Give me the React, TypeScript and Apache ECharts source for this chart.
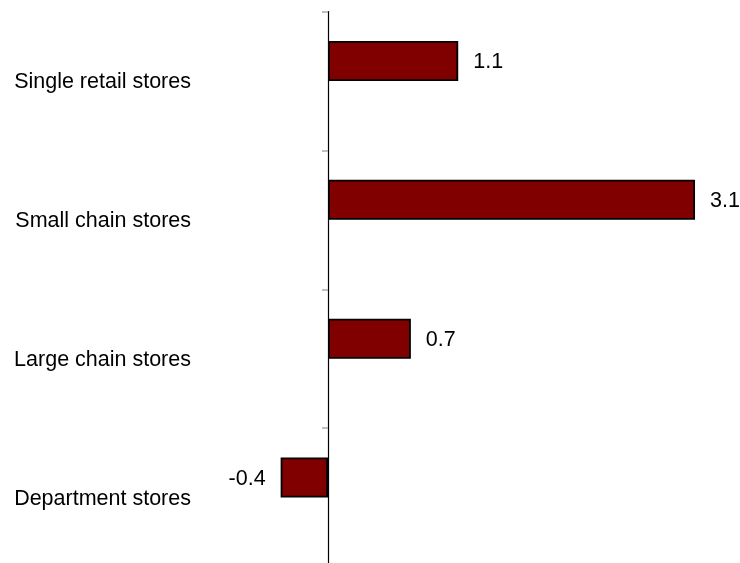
import React, { useEffect, useRef } from "react";
import * as echarts from "echarts";

const categories = [
  "Single retail stores",
  "Small chain stores",
  "Large chain stores",
  "Department stores",
];
const values = [1.1, 3.1, 0.7, -0.4];
const emptyValues = [null, null, null, null];

const FONT = "'Liberation Sans', Arial, Helvetica, sans-serif";

export default function App() {
  const ref = useRef<HTMLDivElement>(null);
  useEffect(() => {
    const chart = echarts.init(ref.current!, null, { renderer: "svg" });
    chart.setOption({
      animation: false,
      grid: {
        left: 209.6,
        right: 21.3,
        top: 11.5,
        bottom: -4,
        containLabel: false,
        outerBoundsMode: "none",
      },
      xAxis: {
        type: "value",
        min: -1,
        max: 3.3,
        show: false,
        splitLine: { show: false },
      },
      yAxis: {
        type: "category",
        inverse: true,
        data: categories,
        axisLine: { show: true, onZero: true, lineStyle: { color: "#000", width: 1.2 } },
        axisTick: { show: true, length: 6, lineStyle: { color: "#aaa", width: 1.5 } },
        axisLabel: { margin: 18.6, fontSize: 21.5, color: "#000", fontFamily: FONT },
        splitLine: { show: false },
      },
      series: [
        {
          type: "bar",
          data: values.map((v) => ({
            value: v,
            label: { position: v < 0 ? "left" : "right" },
          })),
          barWidth: 40,
          barGap: "0%",
          itemStyle: { color: "#800000", borderColor: "#000", borderWidth: 1.8 },
          label: {
            show: true,
            distance: 15,
            fontSize: 21.5,
            color: "#000",
            fontFamily: FONT,
          },
        },
        {
          type: "bar",
          data: emptyValues,
          barWidth: 40,
          barGap: "0%",
        },
      ],
    });
    return () => chart.dispose();
  }, []);
  return (
    <div
      ref={ref}
      style={{ position: "fixed", left: 0, top: 0, width: 740, height: 563 }}
    />
  );
}
